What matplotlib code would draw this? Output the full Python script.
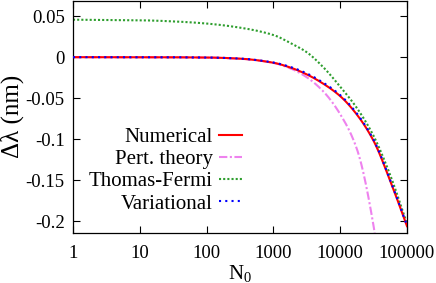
import matplotlib
matplotlib.use("Agg")
import matplotlib.pyplot as plt
import numpy as np
from matplotlib.ticker import FixedLocator, FixedFormatter, LogLocator, NullFormatter

plt.rcParams['font.family'] = ['Liberation Serif', 'DejaVu Serif']
plt.rcParams['mathtext.fontset'] = 'custom'
plt.rcParams['mathtext.rm'] = 'Liberation Serif'
plt.rcParams['mathtext.it'] = 'Liberation Serif:italic'

# Numerical
n_num = [1, 10, 100, 316, 1000, 1778, 3162, 5623, 10000, 17783, 31623, 56234, 100000]
d_num = [0.0, -0.00003, -0.0004, -0.0018, -0.0068, -0.0125, -0.0210, -0.0325, -0.0475, -0.0700, -0.1020, -0.1510, -0.2060]

# Perturbation theory
n_pert = [1, 10, 100, 316, 1000, 1778, 3162, 5623, 10000, 17783, 31623, 35481]
d_pert = [0.0, -0.00004, -0.0005, -0.0019, -0.0070, -0.0135, -0.0245, -0.0420, -0.0695, -0.1120, -0.2060, -0.2350]

# Thomas-Fermi
n_tf = [1, 10, 40, 100, 316, 1000, 1778, 3162, 5623, 10000, 17783, 31623, 56234, 100000]
d_tf = [0.0457, 0.0450, 0.0432, 0.0410, 0.0360, 0.0270, 0.0175, 0.0060, -0.0125, -0.0360, -0.0620, -0.0960, -0.1440, -0.2030]

# Variational
n_var = [1, 10, 100, 316, 1000, 1778, 3162, 5623, 10000, 17783, 31623, 56234, 100000]
d_var = [0.0, -0.00003, -0.0004, -0.0017, -0.0065, -0.0118, -0.0198, -0.0313, -0.0462, -0.0687, -0.1008, -0.1500, -0.2052]

xticks = [1, 10, 100, 1000, 10000, 100000]
xticklabels = ["1", "10", "100", "1000", "10000", "100000"]
yticks = [0.05, 0.0, -0.05, -0.1, -0.15, -0.2]
yticklabels = ["0.05", "0", "-0.05", "-0.1", "-0.15", "-0.2"]


def pchip(xk, yk, xs):
    xk = np.asarray(xk, float)
    yk = np.asarray(yk, float)
    h = np.diff(xk)
    delta = np.diff(yk) / h
    n = len(xk)
    d = np.zeros(n)
    for k in range(1, n - 1):
        if delta[k - 1] * delta[k] > 0:
            w1 = 2 * h[k] + h[k - 1]
            w2 = h[k] + 2 * h[k - 1]
            d[k] = (w1 + w2) / (w1 / delta[k - 1] + w2 / delta[k])
    d[0] = delta[0]
    d[-1] = delta[-1]
    idx = np.clip(np.searchsorted(xk, xs) - 1, 0, n - 2)
    t = (xs - xk[idx]) / h[idx]
    h00 = 2 * t**3 - 3 * t**2 + 1
    h10 = t**3 - 2 * t**2 + t
    h01 = -2 * t**3 + 3 * t**2
    h11 = t**3 - t**2
    return h00 * yk[idx] + h10 * h[idx] * d[idx] + h01 * yk[idx + 1] + h11 * h[idx] * d[idx + 1]


def smooth(n, dv):
    ln = np.log10(n)
    xs = np.linspace(ln[0], ln[-1], 600)
    return 10 ** xs, pchip(ln, dv, xs)


fig = plt.figure(figsize=(4.36, 2.83), dpi=100)
ax = fig.add_axes([0.1674, 0.1767, 0.7661, 0.8213])

x, y = smooth(n_num, d_num)
ax.plot(x, y, color='#ff0000', lw=1.5, ls='-', label='Numerical', zorder=3)
x, y = smooth(n_pert, d_pert)
ax.plot(x, y, color='#ee82ee', lw=1.5, ls=(0, (4, 1.2, 1, 1.2)), label='Pert. theory', zorder=2)
x, y = smooth(n_tf, d_tf)
ax.plot(x, y, color='#2e9e2e', lw=1.5, ls=(0, (1, 1)), label='Thomas-Fermi', zorder=2)
x, y = smooth(n_var, d_var)
ax.plot(x, y, color='#0000ff', lw=1.5, ls=(0, (1, 2)), label='Variational', zorder=4)

ax.set_xscale('log')
ax.set_xlim(1, 100000)
ax.set_ylim(-0.2143, 0.069)

ax.xaxis.set_major_locator(FixedLocator(xticks))
ax.xaxis.set_major_formatter(FixedFormatter(xticklabels))
ax.xaxis.set_minor_locator(LogLocator(base=10, subs=np.arange(2, 10)))
ax.xaxis.set_minor_formatter(NullFormatter())
ax.yaxis.set_major_locator(FixedLocator(yticks))
ax.yaxis.set_major_formatter(FixedFormatter(yticklabels))

ax.tick_params(which='both', direction='in', top=True, right=True, labelsize=13.5, colors='black', width=0.8)
ax.tick_params(which='major', length=5)
ax.tick_params(axis='x', which='major', pad=9)
ax.tick_params(axis='y', which='major', pad=6)
ax.tick_params(which='minor', length=2.5)
for s in ax.spines.values():
    s.set_linewidth(0.9)

ax.set_xlabel('N$_0$', fontsize=15, labelpad=0.5)
ax.set_ylabel('Δλ (nm)', fontsize=18, labelpad=1)

leg = ax.legend(loc='upper right', bbox_to_anchor=(0.506, 0.455), frameon=False,
                markerfirst=False, fontsize=15, handlelength=1.1, handletextpad=0.3,
                labelspacing=0.13, borderaxespad=0, borderpad=0)

fig.savefig('out.png', dpi=100)
